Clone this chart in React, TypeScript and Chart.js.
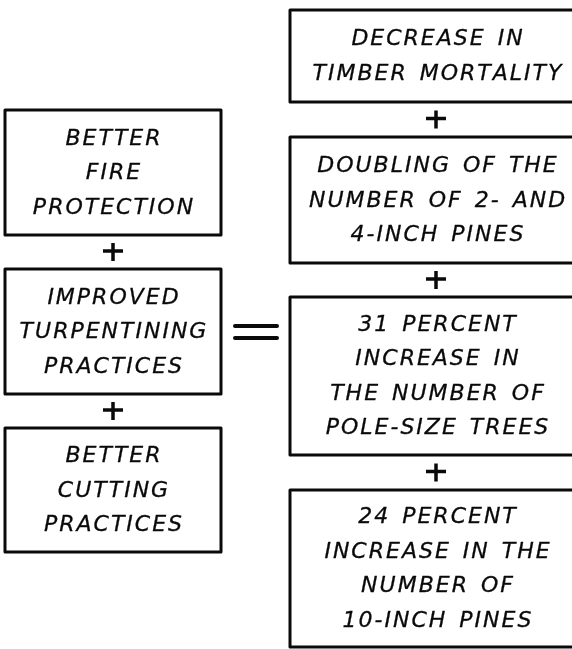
import React, { useEffect, useRef } from "react";
import { Chart, registerables } from "chart.js";

Chart.register(...registerables);

// Causes (left column)
const causeLabels: string[][] = [
  ["BETTER", "FIRE", "PROTECTION"],
  ["IMPROVED", "TURPENTINING", "PRACTICES"],
  ["BETTER", "CUTTING", "PRACTICES"],
];
// Results (right column)
const resultLabels: string[][] = [
  ["DECREASE IN", "TIMBER MORTALITY"],
  ["DOUBLING OF THE", "NUMBER OF 2- AND", "4-INCH PINES"],
  ["31 PERCENT", "INCREASE IN", "THE NUMBER OF", "POLE-SIZE TREES"],
  ["24 PERCENT", "INCREASE IN THE", "NUMBER OF", "10-INCH PINES"],
];

// Layout (diagram units on hidden linear scales)
const causeX: [number, number] = [5, 221];
const causeY: [number, number][] = [
  [110, 235],
  [269, 394],
  [428, 552],
];
const resultX: [number, number] = [290, 584];
const resultY: [number, number][] = [
  [10, 102],
  [137, 263],
  [297, 455],
  [490, 647],
];
const equalsPos = { x0: 235, x1: 277, y: [326, 338] };

const W = 572;
const H = 649;

function drawSpaced(ctx: CanvasRenderingContext2D, text: string, cx: number, cy: number, spacing: number) {
  const chars = Array.from(text);
  const widths = chars.map((c) => ctx.measureText(c).width + (c === " " ? 3 : 0));
  const total = widths.reduce((a, b) => a + b, 0) + spacing * (chars.length - 1);
  let x = cx - total / 2;
  chars.forEach((c, i) => {
    if (c !== " ") {
      ctx.fillText(c, x, cy);
      ctx.strokeText(c, x, cy);
    }
    x += widths[i] + spacing;
  });
}

const diagramPlugin = {
  id: "diagram",
  afterDraw(chart: any) {
    const ctx: CanvasRenderingContext2D = chart.ctx;
    const sx = chart.scales.x;
    const sy = chart.scales.y;
    const px = (v: number) => sx.getPixelForValue(v);
    const py = (v: number) => sy.getPixelForValue(v);
    ctx.save();
    ctx.strokeStyle = "#0a0a0a";
    ctx.fillStyle = "#0a0a0a";
    ctx.font = "italic 22px 'DejaVu Sans'";
    ctx.textBaseline = "middle";
    ctx.textAlign = "left";
    ctx.lineJoin = "round";
    const lineGap = 34.5;

    const drawBox = (xr: [number, number], yr: [number, number], lines: string[]) => {
      const x0 = px(xr[0]);
      const x1 = px(xr[1]);
      const y0 = py(yr[0]);
      const y1 = py(yr[1]);
      ctx.lineWidth = 3;
      ctx.strokeRect(x0, y0, x1 - x0, y1 - y0);
      const cx = (x0 + x1) / 2;
      const cy = (y0 + y1) / 2;
      ctx.lineWidth = 0.3;
      lines.forEach((t, i) => {
        const y = cy + (i - (lines.length - 1) / 2) * lineGap;
        drawSpaced(ctx, t, cx, y + 1, 2);
      });
    };
    const drawPlus = (cx: number, cy: number) => {
      ctx.lineWidth = 3.5;
      ctx.beginPath();
      ctx.moveTo(cx - 10, cy - 1);
      ctx.lineTo(cx + 10, cy - 1);
      ctx.moveTo(cx, cy - 9);
      ctx.lineTo(cx, cy + 9);
      ctx.stroke();
    };

    causeLabels.forEach((lines, i) => drawBox(causeX, causeY[i], lines));
    resultLabels.forEach((lines, i) => drawBox(resultX, resultY[i], lines));

    const cCx = (px(causeX[0]) + px(causeX[1])) / 2;
    for (let i = 0; i < causeY.length - 1; i++) {
      drawPlus(cCx, (py(causeY[i][1]) + py(causeY[i + 1][0])) / 2);
    }
    const rCx = 436;
    for (let i = 0; i < resultY.length - 1; i++) {
      drawPlus(px(rCx), (py(resultY[i][1]) + py(resultY[i + 1][0])) / 2);
    }
    ctx.lineWidth = 4;
    ctx.lineCap = "round";
    ctx.beginPath();
    equalsPos.y.forEach((y) => {
      ctx.moveTo(px(equalsPos.x0), py(y));
      ctx.lineTo(px(equalsPos.x1), py(y));
    });
    ctx.stroke();
    ctx.restore();
  },
};

export default function App() {
  const ref = useRef<HTMLCanvasElement | null>(null);
  useEffect(() => {
    document.body.style.margin = "0";
    document.body.style.background = "#fff";
    if (!ref.current) return;
    const chart = new Chart(ref.current, {
      type: "scatter",
      data: { datasets: [{ data: [], pointRadius: 0 }] },
      options: {
        animation: false,
        responsive: false,
        devicePixelRatio: 1,
        layout: { padding: 0 },
        plugins: { legend: { display: false }, tooltip: { enabled: false } },
        scales: {
          x: { type: "linear", min: 0, max: W, display: false },
          y: { type: "linear", min: 0, max: H, reverse: true, display: false },
        },
      },
      plugins: [diagramPlugin],
    });
    return () => chart.destroy();
  }, []);
  return (
    <div style={{ width: W, height: H, background: "#fff" }}>
      <canvas ref={ref} width={W} height={H} />
    </div>
  );
}
